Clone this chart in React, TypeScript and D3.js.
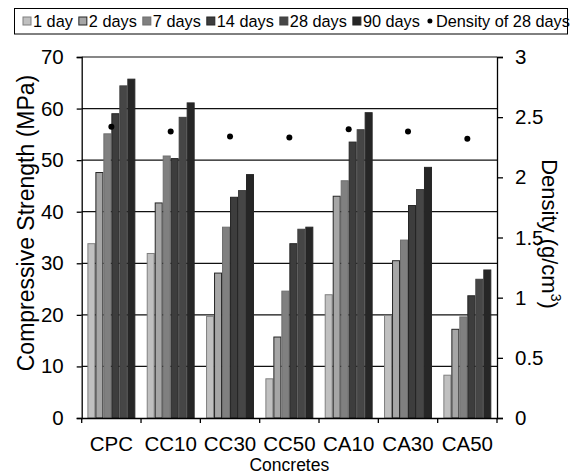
import React, { useEffect, useRef } from 'react';
import * as d3 from 'd3';

const concretes = ['CPC', 'CC10', 'CC30', 'CC50', 'CA10', 'CA30', 'CA50'];
const ages = ['1 day', '2 days', '7 days', '14 days', '28 days', '90 days'];

// compressive strength (MPa), one array per age
const day1 = [33.8, 31.9, 19.7, 7.6, 23.9, 19.9, 8.3];
const day2 = [47.6, 41.7, 28.1, 15.7, 43.0, 30.5, 17.2];
const day7 = [55.1, 50.8, 37.0, 24.6, 46.0, 34.5, 19.6];
const day14 = [59.0, 50.3, 42.8, 33.8, 53.5, 41.2, 23.7];
const day28 = [64.4, 58.3, 44.1, 36.6, 55.9, 44.3, 26.9];
const day90 = [65.7, 61.1, 47.2, 37.0, 59.2, 48.6, 28.7];

// density at 28 days (g/cm3)
const density28 = [2.42, 2.38, 2.34, 2.33, 2.40, 2.38, 2.32];

const strengthTicks = [0, 10, 20, 30, 40, 50, 60, 70];
const densityTicks = [0, 0.5, 1, 1.5, 2, 2.5, 3];

const fills = ['#c0c0c0', '#a6a6a6', '#808080', '#3d3d3d', '#464646', '#262626'];
const strokes = ['#7f7f7f', '#262626', '#6e6e6e', '#262626', '#404040', '#262626'];

function App() {
  const ref = useRef<SVGSVGElement>(null);

  useEffect(() => {
    const svg = d3.select(ref.current);
    svg.selectAll('*').remove();

    const font = 'Liberation Sans, Arial, sans-serif';
    const margin = { top: 57, right: 79, bottom: 58, left: 81.7 };
    const width = 576, height = 476;
    const series = [day1, day2, day7, day14, day28, day90];

    const x = d3.scaleBand().domain(concretes)
      .range([margin.left, width - margin.right]).padding(0);
    const pad = x.bandwidth() * 0.096;
    const xi = d3.scaleBand().domain(ages)
      .range([pad, x.bandwidth() - pad]).padding(0);
    const y = d3.scaleLinear().domain([0, 70]).range([height - margin.bottom, margin.top]);
    const y2 = d3.scaleLinear().domain([0, 3]).range([height - margin.bottom, margin.top]);

    // grid
    svg.append('g')
      .selectAll('line')
      .data(strengthTicks.slice(1))
      .join('line')
      .attr('x1', margin.left)
      .attr('x2', width - margin.right)
      .attr('y1', d => y(d))
      .attr('y2', d => y(d))
      .attr('stroke', '#111')
      .attr('stroke-width', 1.2);

    // bars
    const groups = svg.append('g')
      .selectAll('g')
      .data(concretes)
      .join('g')
      .attr('transform', d => `translate(${x(d)},0)`);

    groups.selectAll('rect')
      .data((c, i) => ages.map((a, k) => ({ age: a, k, v: series[k][i] })))
      .join('rect')
      .attr('x', d => xi(d.age)! + 0.5)
      .attr('width', xi.bandwidth() - 1)
      .attr('y', d => y(d.v))
      .attr('height', d => y(0) - y(d.v))
      .attr('fill', d => fills[d.k])
      .attr('stroke', d => strokes[d.k])
      .attr('stroke-width', 1);

    // density dots
    svg.append('g')
      .selectAll('circle')
      .data(concretes)
      .join('circle')
      .attr('cx', d => x(d)! + x.bandwidth() / 2)
      .attr('cy', (d, i) => y2(density28[i]))
      .attr('r', 3)
      .attr('fill', '#000');

    // left axis
    svg.append('g')
      .attr('transform', `translate(${margin.left},0)`)
      .call(d3.axisLeft(y).tickValues(strengthTicks).tickSize(5).tickPadding(13).tickFormat(d => String(d)))
      .call(g => g.selectAll('text').attr('font-size', 20.5).attr('font-family', font).attr('fill', '#000'))
      .call(g => g.selectAll('line, path').attr('stroke', '#000').attr('stroke-width', 1.3));

    // right axis
    svg.append('g')
      .attr('transform', `translate(${width - margin.right},0)`)
      .call(d3.axisRight(y2).tickValues(densityTicks).tickSize(6).tickPadding(12).tickFormat(d => String(d)))
      .call(g => g.selectAll('text').attr('font-size', 20.5).attr('font-family', font).attr('fill', '#000'))
      .call(g => g.selectAll('line, path').attr('stroke', '#000').attr('stroke-width', 1.3));

    // bottom axis: labels at centers, ticks on group boundaries
    svg.append('g')
      .attr('transform', `translate(0,${height - margin.bottom})`)
      .call(d3.axisBottom(x).tickSize(0).tickPadding(18))
      .call(g => g.select('.domain').attr('stroke', '#000').attr('stroke-width', 1.3))
      .call(g => g.selectAll('text').attr('font-size', 20.5).attr('font-family', font).attr('fill', '#000'))
      .call(g => g.append('g')
        .selectAll('line')
        .data([...concretes.map(c => x(c)!), width - margin.right])
        .join('line')
        .attr('x1', d => d)
        .attr('x2', d => d)
        .attr('y1', 0)
        .attr('y2', 5)
        .attr('stroke', '#000')
        .attr('stroke-width', 1.3));

    // axis titles
    svg.append('text')
      .attr('x', (margin.left + width - margin.right) / 2)
      .attr('y', 471)
      .attr('text-anchor', 'middle')
      .attr('font-size', 17.5)
      .attr('font-family', font)
      .text('Concretes');

    svg.append('text')
      .attr('transform', 'translate(33.5,223) rotate(-90)')
      .attr('text-anchor', 'middle')
      .attr('font-size', 23)
      .attr('font-family', font)
      .text('Compressive Strength (MPa)');

    const rt = svg.append('text')
      .attr('transform', 'translate(542,234) rotate(90)')
      .attr('text-anchor', 'middle')
      .attr('font-size', 22)
      .attr('font-family', font);
    rt.append('tspan').text('Density (g/cm');
    rt.append('tspan').attr('font-size', 14).attr('dy', -9).text('3');
    rt.append('tspan').attr('dy', 9).text(')');

    // legend
    const lg = svg.append('g');
    lg.append('rect')
      .attr('x', 14.5).attr('y', 8.5)
      .attr('width', 553).attr('height', 25.5)
      .attr('fill', '#fff')
      .attr('stroke', '#000')
      .attr('stroke-width', 1);

    let lx = 23;
    const cy = 21;
    ages.forEach((a, k) => {
      lg.append('rect')
        .attr('x', lx).attr('y', cy - 4)
        .attr('width', 8).attr('height', 8)
        .attr('fill', fills[k])
        .attr('stroke', strokes[k])
        .attr('stroke-width', 1);
      const t = lg.append('text')
        .attr('x', lx + 10).attr('y', cy + 6)
        .attr('font-size', 16.3)
        .attr('font-family', font)
        .text(a);
      lx += 10 + (t.node() as SVGTextElement).getComputedTextLength() + 6;
    });
    lg.append('circle').attr('cx', lx + 4).attr('cy', cy).attr('r', 2.5).attr('fill', '#000');
    lg.append('text')
      .attr('x', lx + 10).attr('y', cy + 6)
      .attr('font-size', 16.3)
      .attr('font-family', font)
      .text('Density of 28 days');
  });

  return (
    <svg ref={ref} width={576} height={476}
      style={{ position: 'absolute', left: 0, top: 0, background: '#fff' }} />
  );
}

export default App;
